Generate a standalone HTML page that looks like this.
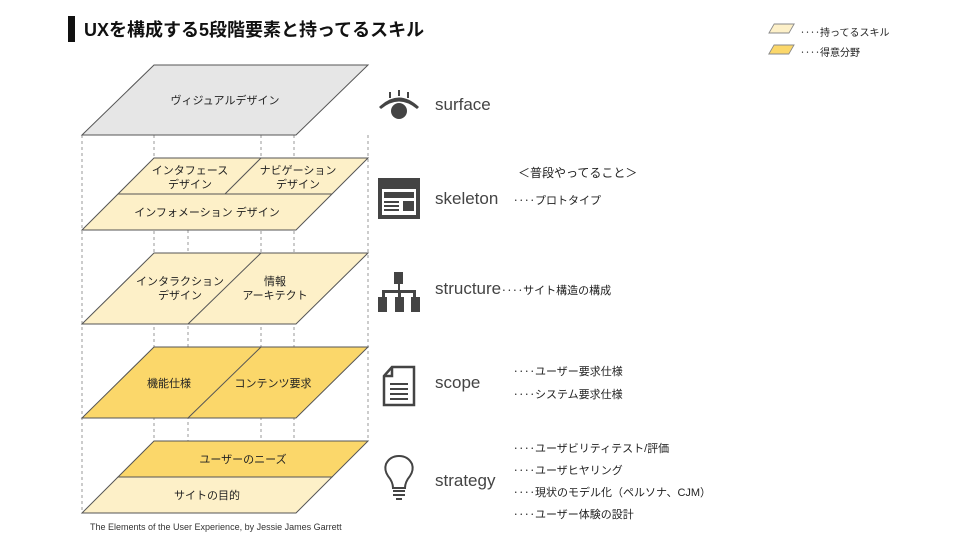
<!DOCTYPE html>
<html><head><meta charset="utf-8"><style>
body{margin:0;width:960px;height:540px;background:#fff;overflow:hidden;position:relative;font-family:"Liberation Sans","Noto Sans CJK JP",sans-serif;}
.t{position:absolute;white-space:nowrap;color:#222;}
</style></head><body>
<svg width="960" height="540" style="position:absolute;left:0;top:0" font-family="Liberation Sans, Noto Sans CJK JP, sans-serif">
<rect x="68" y="16" width="7" height="26" fill="#111"/>
<g stroke="#999" stroke-dasharray="3,3" stroke-width="1">
<line x1="82" y1="135" x2="82" y2="513"/>
<line x1="154" y1="135" x2="154" y2="441"/>
<line x1="188" y1="230" x2="188" y2="513"/>
<line x1="261" y1="135" x2="261" y2="441"/>
<line x1="294" y1="135" x2="294" y2="513"/>
<line x1="368" y1="135" x2="368" y2="441"/>
</g>
<g stroke="#555" stroke-width="1">
<polygon points="154,65 368,65 296,135 82,135" fill="#e6e6e6"/>
<polygon points="154,158 368,158 296,230 82,230" fill="#fdf0c8"/>
<line x1="118" y1="194" x2="332" y2="194"/>
<line x1="261" y1="158" x2="225" y2="194"/>
<polygon points="154,253 368,253 296,324 82,324" fill="#fdf0c8"/>
<line x1="261" y1="253" x2="188" y2="324"/>
<polygon points="154,347 368,347 296,418 82,418" fill="#fbd76a"/>
<line x1="261" y1="347" x2="188" y2="418"/>
<polygon points="154,441 368,441 332,477 118,477" fill="#fbd76a"/>
<polygon points="118,477 332,477 296,513 82,513" fill="#fdf0c8"/>
</g>
<g fill="#222" font-size="11" text-anchor="middle">
<text x="225" y="104">ヴィジュアルデザイン</text>
<text x="190" y="174">インタフェース</text><text x="190" y="188">デザイン</text>
<text x="298" y="174">ナビゲーション</text><text x="298" y="188">デザイン</text>
<text x="207" y="216">インフォメーション デザイン</text>
<text x="180" y="285">インタラクション</text><text x="180" y="299">デザイン</text>
<text x="275" y="285">情報</text><text x="275" y="299">アーキテクト</text>
<text x="169" y="387">機能仕様</text>
<text x="273" y="387">コンテンツ要求</text>
<text x="243" y="463">ユーザーのニーズ</text>
<text x="207" y="499">サイトの目的</text>
</g>
<text x="90" y="530" font-size="9" fill="#333">The Elements of the User Experience, by Jessie James Garrett</text>
<g fill="#444">
<circle cx="399" cy="111" r="8"/>
<path d="M379 107 Q399 88 419 107 L417 109 Q399 94 381 109 Z"/>
<rect x="389" y="92" width="2" height="6"/><rect x="398" y="90" width="2" height="6"/><rect x="407" y="92" width="2" height="6"/>
<rect x="378" y="178" width="42" height="41"/>
<rect x="382" y="189" width="34" height="26" fill="#fff"/>
<rect x="384" y="192" width="30" height="6"/>
<rect x="384" y="201" width="15" height="2"/><rect x="384" y="205" width="15" height="2"/><rect x="384" y="209" width="15" height="2"/>
<rect x="403" y="201" width="11" height="10"/>
<rect x="394" y="272" width="9" height="12"/>
<rect x="398" y="284" width="2" height="8"/>
<rect x="382" y="290" width="34" height="3"/>
<rect x="382" y="290" width="3" height="8"/><rect x="398" y="290" width="3" height="8"/><rect x="413" y="290" width="3" height="8"/>
<rect x="378" y="297" width="9" height="15"/><rect x="395" y="297" width="9" height="15"/><rect x="411" y="297" width="9" height="15"/>
</g>
<g fill="none" stroke="#444" stroke-width="2.5">
<path d="M392 367 L414 367 L414 405 L384 405 L384 376 Z"/>
<path d="M392 367 L392 376 L384 376"/>
</g>
<g stroke="#444" stroke-width="2"><line x1="390" y1="384" x2="408" y2="384"/><line x1="390" y1="389" x2="408" y2="389"/><line x1="390" y1="394" x2="408" y2="394"/><line x1="390" y1="399" x2="408" y2="399"/></g>
<path d="M393 488 Q393 482 388 476 Q384 470 386 464 Q390 456 399 456 Q408 456 412 464 Q414 470 410 476 Q405 482 405 488 Z" fill="none" stroke="#444" stroke-width="2"/>
<g stroke="#444" stroke-width="2"><line x1="393" y1="491" x2="405" y2="491"/><line x1="393" y1="495" x2="405" y2="495"/><line x1="396" y1="499" x2="402" y2="499"/></g>
<rect x="772" y="24" width="20" height="9" fill="#fdf0c8" stroke="#888" transform="skewX(-30) translate(16,0)"/>
<rect x="772" y="45" width="20" height="9" fill="#fbd76a" stroke="#888" transform="skewX(-30) translate(28,0)"/>
</svg>
<div class="t" style="left:84px;top:16px;font-size:18px;font-weight:bold;color:#111">UXを構成する5段階要素と持ってるスキル</div>
<div class="t" style="left:800px;top:24px;font-size:10px">‥‥持ってるスキル</div>
<div class="t" style="left:800px;top:44px;font-size:10px">‥‥得意分野</div>
<div class="t" style="left:435px;top:95px;font-size:17px;color:#444">surface</div>
<div class="t" style="left:435px;top:189px;font-size:17px;color:#444">skeleton</div>
<div class="t" style="left:435px;top:279px;font-size:17px;color:#444">structure<span style="font-size:11px;color:#222">‥‥サイト構造の構成</span></div>
<div class="t" style="left:435px;top:373px;font-size:17px;color:#444">scope</div>
<div class="t" style="left:435px;top:471px;font-size:17px;color:#444">strategy</div>
<div class="t" style="left:518px;top:164px;font-size:12px">＜普段やってること＞</div>
<div class="t" style="left:513px;top:192px;font-size:11px">‥‥プロトタイプ</div>
<div class="t" style="left:513px;top:363px;font-size:11px">‥‥ユーザー要求仕様</div>
<div class="t" style="left:513px;top:386px;font-size:11px">‥‥システム要求仕様</div>
<div class="t" style="left:513px;top:440px;font-size:11px">‥‥ユーザビリティテスト/評価</div>
<div class="t" style="left:513px;top:462px;font-size:11px">‥‥ユーザヒヤリング</div>
<div class="t" style="left:513px;top:484px;font-size:11px">‥‥現状のモデル化（ペルソナ、CJM）</div>
<div class="t" style="left:513px;top:506px;font-size:11px">‥‥ユーザー体験の設計</div>
</body></html>
